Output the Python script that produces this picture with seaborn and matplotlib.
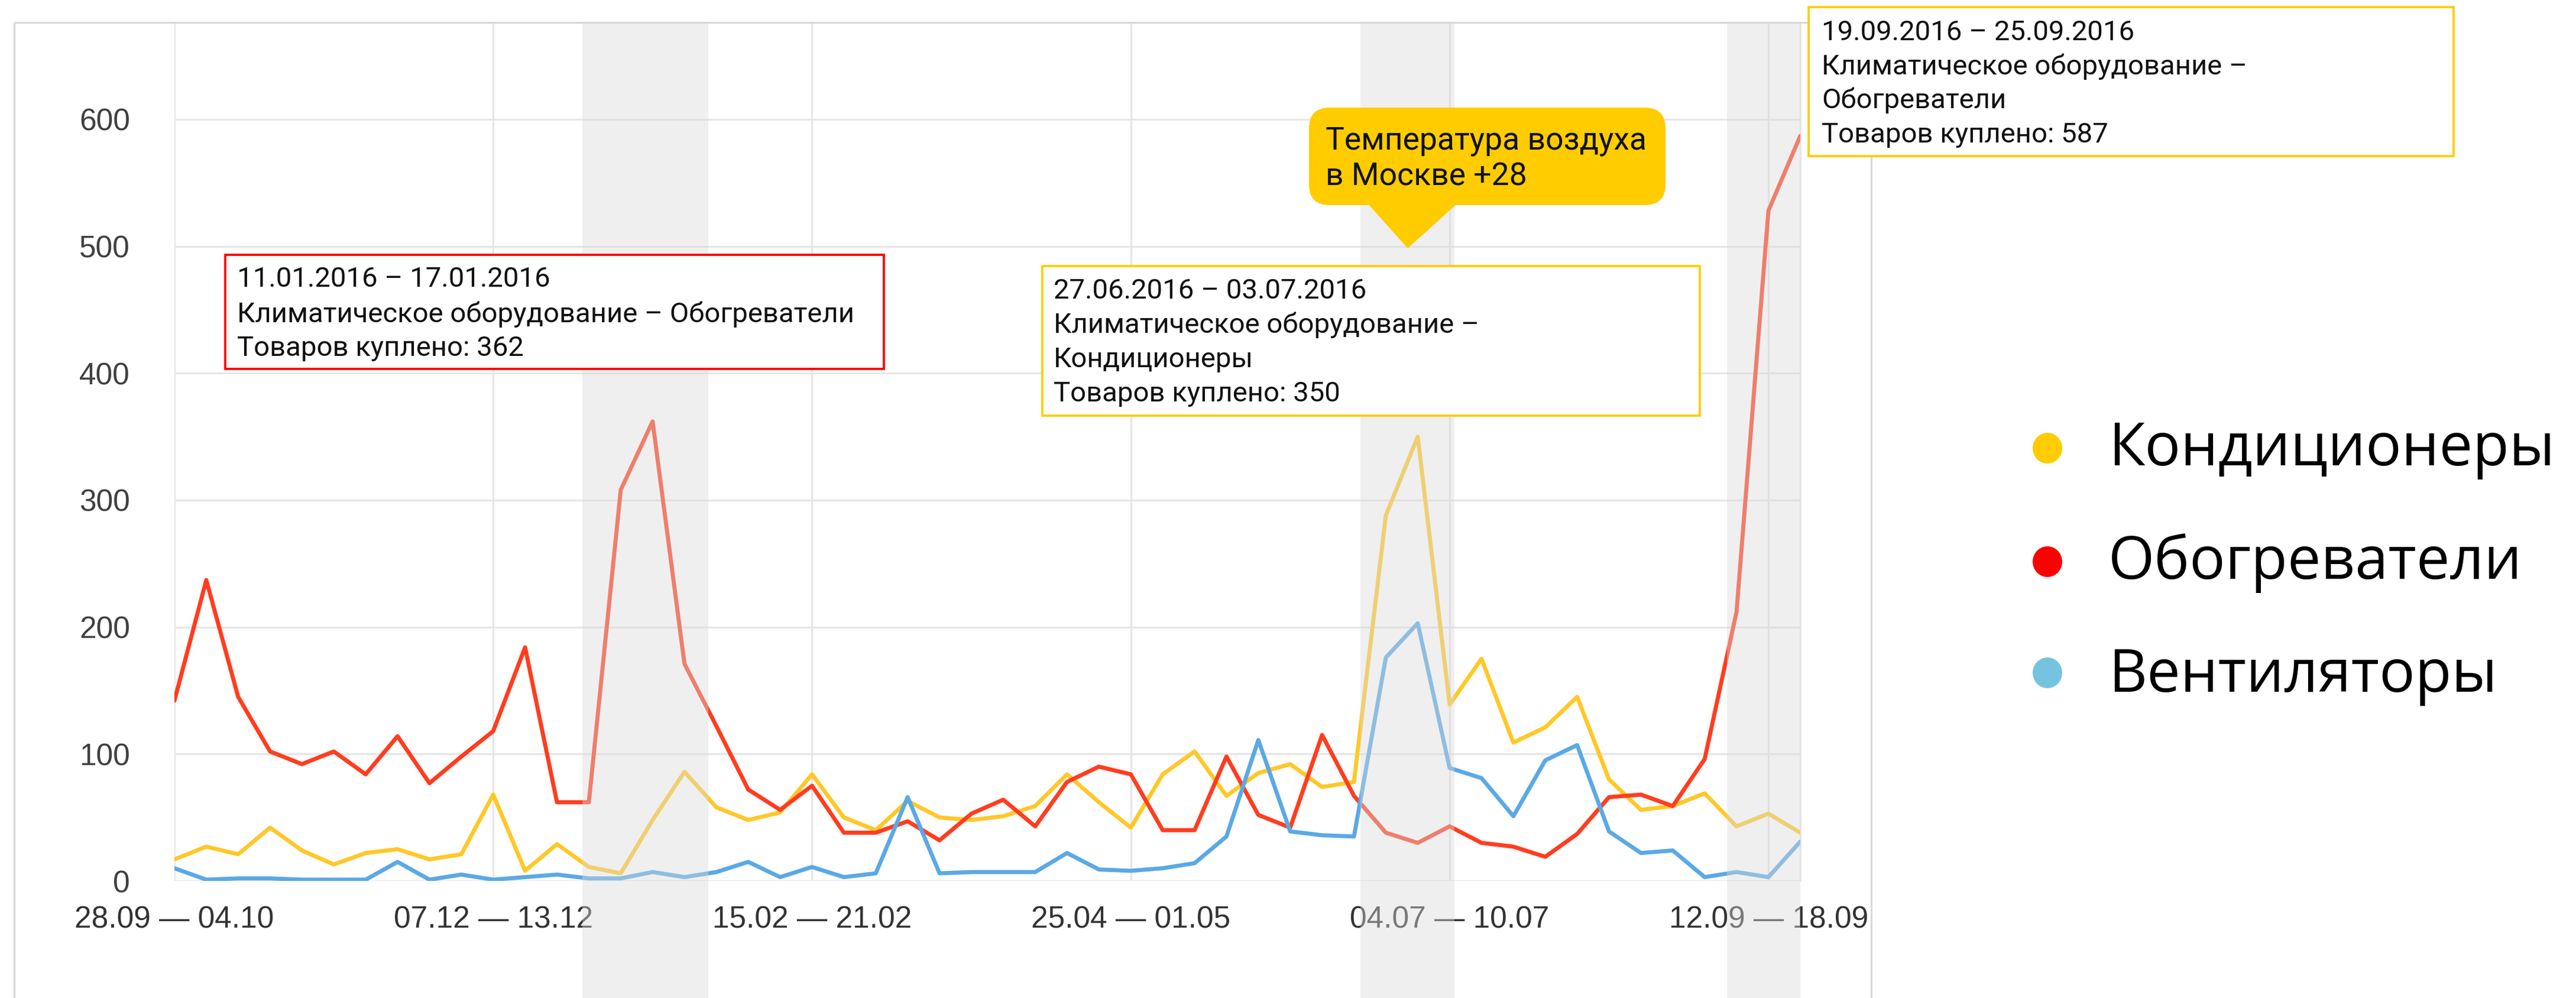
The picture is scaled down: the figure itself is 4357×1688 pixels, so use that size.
import matplotlib
matplotlib.use("Agg")
import matplotlib.pyplot as plt
from matplotlib.patches import Rectangle, FancyBboxPatch, Polygon, Ellipse
import pandas as pd
import seaborn as sns

# ---------------- data ----------------
weeks = list(range(52))  # weekly points, 28.09.2015 ... 19.09.2016
tick_weeks = [0, 10, 20, 30, 40, 50]
tick_labels = ["28.09 — 04.10", "07.12 — 13.12", "15.02 — 21.02",
               "25.04 — 01.05", "04.07 — 10.07", "12.09 — 18.09"]
y_ticks = [0, 100, 200, 300, 400, 500, 600]

series_names = ["Кондиционеры", "Обогреватели", "Вентиляторы"]

conditioners = [17, 27, 21, 42, 24, 13, 22, 25, 17, 21, 68, 8,
                29, 11, 6, 48, 86, 58, 48, 54, 84, 50, 40, 63,
                50, 48, 51, 59, 84, 62, 42, 84, 102, 67, 85, 92,
                74, 78, 288, 350, 139, 175, 109, 121, 145, 80, 56, 59,
                69, 43, 53, 38]
heaters = [142, 237, 145, 102, 92, 102, 84, 114, 77, 98, 118, 184,
           62, 62, 308, 362, 171, 122, 72, 56, 75, 38, 38, 47,
           32, 53, 64, 43, 78, 90, 84, 40, 40, 98, 52, 42,
           115, 67, 38, 30, 43, 30, 27, 19, 37, 66, 68, 59,
           96, 212, 528, 587]
fans = [10, 1, 2, 2, 1, 1, 1, 15, 1, 5, 1, 3,
        5, 2, 2, 7, 3, 7, 15, 3, 11, 3, 6, 66,
        6, 7, 7, 7, 22, 9, 8, 10, 14, 35, 111, 39,
        36, 35, 176, 203, 89, 81, 51, 95, 107, 39, 22, 24,
        3, 7, 3, 31]

# highlighted periods (in weeks)
highlight_spans = [(12.8, 16.75), (37.2, 40.15), (48.7, 51.0)]

# annotated weeks
note_heaters_winter = 15
note_conditioners_summer = 39
note_heaters_autumn = 51

# ---------------- style ----------------
line_colors = {"Кондиционеры": "#ffc829", "Обогреватели": "#ff3d1f", "Вентиляторы": "#5aa9e6"}
legend_colors = ["#ffcc00", "#ff0000", "#76c3e0"]
grid_color = "#e6e6e6"

sns.set_theme(style="white")
plt.rcParams["font.family"] = ["Liberation Sans", "DejaVu Sans"]

W, H, DPI = 4357, 1688, 100
fig = plt.figure(figsize=(W / DPI, H / DPI), dpi=DPI)
fig.patch.set_facecolor("white")

# plot area in pixel bounds
px_left, px_right, px_top, px_bottom = 295, 3045, 38, 1490
ax = fig.add_axes([px_left / W, (H - px_bottom) / H,
                   (px_right - px_left) / W, (px_bottom - px_top) / H])

df = pd.DataFrame({
    "week": weeks * 3,
    "value": conditioners + heaters + fans,
    "series": [series_names[0]] * 52 + [series_names[1]] * 52 + [series_names[2]] * 52,
})
sns.lineplot(data=df, x="week", y="value", hue="series", hue_order=series_names,
             palette=line_colors, linewidth=5.0, legend=False, ax=ax, zorder=3)

ax.set_xlim(0, 51)
ax.set_ylim(0, 676.3)
ax.set_xticks(tick_weeks)
ax.set_xticklabels(tick_labels)
ax.set_yticks(y_ticks)
ax.set_yticklabels([str(v) for v in y_ticks])
ax.set_xlabel("")
ax.set_ylabel("")
ax.grid(True, color=grid_color, linewidth=2.2)
ax.set_axisbelow(True)
for side in ["top", "left", "bottom"]:
    ax.spines[side].set_visible(False)
ax.spines["right"].set_color(grid_color)
ax.spines["right"].set_linewidth(2.2)
ax.tick_params(axis="y", length=0, pad=54, labelsize=37, labelcolor="#404040")
ax.tick_params(axis="x", length=0, pad=30, labelsize=37, labelcolor="#333333")

# translucent highlight bands over the lines, reaching down to the bottom edge
for a, b in highlight_spans:
    ax.axvspan(a, b, ymin=-0.14, ymax=1.0, facecolor="#d9d9d9", alpha=0.42,
               linewidth=0, zorder=5, clip_on=False)

# ---------------- overlay in pixel coordinates ----------------
oax = fig.add_axes([0, 0, 1, 1], zorder=10)
oax.set_xlim(0, W)
oax.set_ylim(H, 0)
oax.axis("off")
oax.patch.set_alpha(0)

# outer frame
oax.add_patch(Rectangle((24, 38), 3165 - 24, 1720 - 38, fill=False,
                        edgecolor="#d8d8d8", linewidth=2.2))

box_font = dict(family=["Roboto", "DejaVu Sans"], fontsize=34, color="#111111",
                ha="left", va="baseline")


def note_box(x0, y0, x1, y1, edge, lines, baselines, text_x):
    oax.add_patch(Rectangle((x0, y0), x1 - x0, y1 - y0, facecolor="white",
                            edgecolor=edge, linewidth=2.7))
    for line, yb in zip(lines, baselines):
        oax.text(text_x, yb, line, **box_font)


note_box(381, 431, 1495, 624, "#ff0000",
         ["11.01.2016 – 17.01.2016",
          "Климатическое оборудование – Обогреватели",
          f"Товаров куплено: {heaters[note_heaters_winter]}"],
         [485, 545, 602], 401)

note_box(1763, 450, 2875, 703, "#ffcc00",
         ["27.06.2016 – 03.07.2016",
          "Климатическое оборудование –",
          "Кондиционеры",
          f"Товаров куплено: {conditioners[note_conditioners_summer]}"],
         [505, 563, 621, 679], 1782)

note_box(3059, 12, 4150, 264, "#ffcc00",
         ["19.09.2016 – 25.09.2016",
          "Климатическое оборудование –",
          "Обогреватели",
          f"Товаров куплено: {heaters[note_heaters_autumn]}"],
         [68, 126, 183, 241], 3081)

# weather callout
oax.add_patch(FancyBboxPatch((2214, 182), 603, 165,
                             boxstyle="round,pad=0,rounding_size=35",
                             facecolor="#ffcc00", edgecolor="none"))
oax.add_patch(Polygon([(2314, 345), (2464, 345), (2381, 420)], closed=True,
                      facecolor="#ffcc00", edgecolor="none"))
for line, yb in zip(["Температура воздуха", "в Москве +28"], [252, 314]):
    oax.text(2242, yb, line, family=["Roboto", "DejaVu Sans"], fontsize=38.5,
             color="#111111", ha="left", va="baseline")

# legend
for name, col, yc, yb in zip(series_names, legend_colors, [758, 950, 1138], [787, 979, 1170]):
    oax.add_patch(Ellipse((3463, yc), 50, 52, facecolor=col, edgecolor="none"))
    oax.text(3566, yb, name, family=["Open Sans", "DejaVu Sans"], fontsize=72.5,
             color="#000000", ha="left", va="baseline")

fig.savefig("out.png", dpi=DPI, facecolor="white")
